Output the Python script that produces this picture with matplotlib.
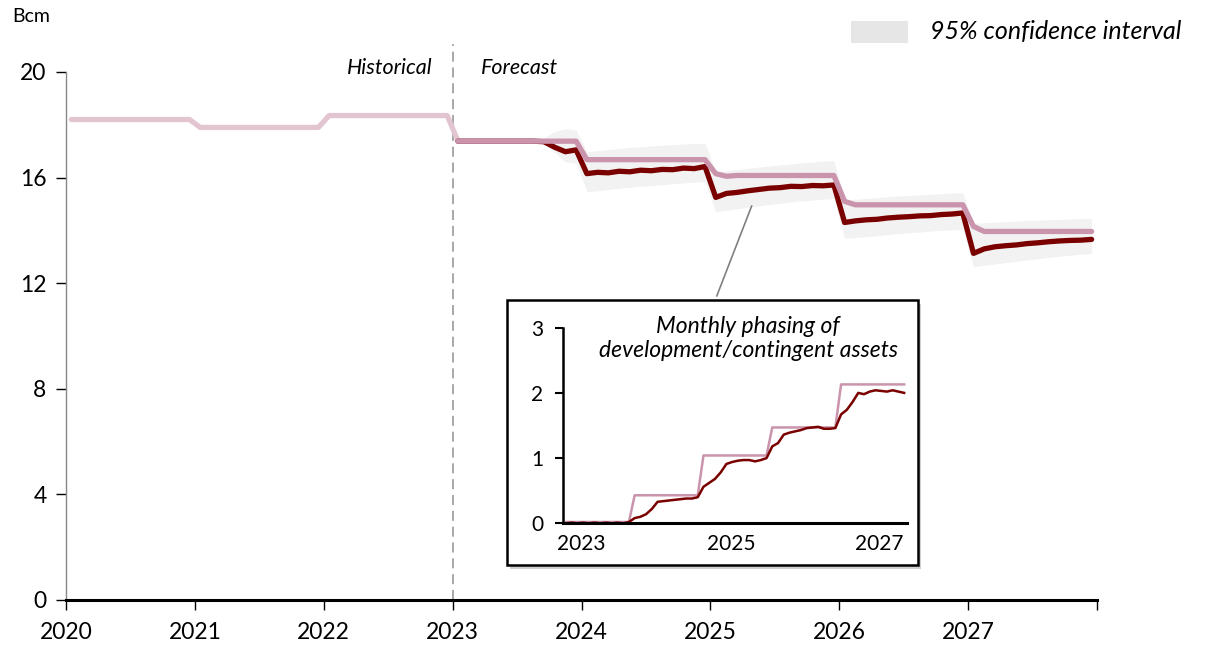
import matplotlib.pyplot as plt
import matplotlib.patches as mpatches
import numpy as np

plt.rcParams['font.family'] = ['Lato', 'DejaVu Sans']

# historical monthly supply, Jan 2020 - Dec 2022 (bcm)
hist = [18.2] * 12 + [17.9] * 12 + [18.35] * 12

# forecast monthly, Jan 2023 - Dec 2027
no_dev = ([17.38] * 12 + [16.68] * 12 + [16.15, 16.05] + [16.08] * 10
          + [15.1] + [14.97] * 11 + [14.15] + [13.96] * 11)
with_dev = [17.38, 17.38, 17.38, 17.38, 17.38, 17.38, 17.38, 17.38, 17.36, 17.15, 16.98, 17.05,
            16.15, 16.2, 16.18, 16.24, 16.22, 16.28, 16.26, 16.31, 16.3, 16.36, 16.34, 16.42,
            15.25, 15.4, 15.44, 15.5, 15.55, 15.6, 15.62, 15.67, 15.66, 15.7, 15.69, 15.72,
            14.3, 14.36, 14.4, 14.42, 14.47, 14.5, 14.52, 14.55, 14.56, 14.6, 14.62, 14.66,
            13.13, 13.3, 13.38, 13.42, 13.45, 13.5, 13.53, 13.57, 13.6, 13.62, 13.63, 13.66]
band_lo = [17.38, 17.38, 17.38, 17.38, 17.38, 17.38, 17.38, 17.38, 17.3, 16.95, 16.6, 16.55,
           15.47, 15.5, 15.55, 15.6, 15.63, 15.67, 15.7, 15.73, 15.77, 15.8, 15.83, 15.85,
           14.71, 14.76, 14.82, 14.88, 14.93, 14.98, 15.03, 15.08, 15.12, 15.15, 15.18, 15.21,
           13.7, 13.73, 13.76, 13.8, 13.84, 13.88, 13.91, 13.94, 13.97, 14.0, 14.02, 14.04,
           12.63, 12.68, 12.73, 12.78, 12.83, 12.88, 12.93, 12.98, 13.02, 13.06, 13.1, 13.13]
band_hi = [17.38, 17.38, 17.38, 17.38, 17.38, 17.38, 17.38, 17.38, 17.5, 17.75, 17.85, 17.8,
           16.98, 17.02, 17.06, 17.1, 17.14, 17.17, 17.2, 17.22, 17.25, 17.27, 17.29, 17.3,
           16.22, 16.26, 16.3, 16.35, 16.4, 16.44, 16.48, 16.52, 16.56, 16.59, 16.62, 16.64,
           15.15, 15.18, 15.21, 15.24, 15.27, 15.3, 15.32, 15.35, 15.37, 15.39, 15.41, 15.43,
           14.27, 14.29, 14.31, 14.33, 14.35, 14.37, 14.39, 14.4, 14.42, 14.43, 14.45, 14.46]

# inset: monthly phasing of development/contingent assets
phase_plan = [0.02] * 12 + [0.43] * 12 + [1.04] * 12 + [1.47] * 12 + [2.13] * 12
phase_act = [0.0, 0.01, 0.0, 0.01, 0.0, 0.01, 0.0, 0.01, 0.0, 0.01, 0.0, 0.02,
             0.08, 0.1, 0.14, 0.22, 0.33, 0.34, 0.35, 0.36, 0.37, 0.38, 0.38, 0.4,
             0.56, 0.62, 0.68, 0.78, 0.91, 0.94, 0.96, 0.97, 0.97, 0.95, 0.97, 1.0,
             1.18, 1.23, 1.36, 1.39, 1.41, 1.43, 1.46, 1.47, 1.48, 1.45, 1.45, 1.46,
             1.67, 1.74, 1.86, 2.0, 1.98, 2.02, 2.04, 2.03, 2.02, 2.04, 2.02, 2.0]

years = [2020, 2021, 2022, 2023, 2024, 2025, 2026, 2027]

t_hist = 2020 + (np.arange(len(hist)) + 0.5) / 12
t_fc = 2023 + (np.arange(len(with_dev)) + 0.5) / 12

dark = '#7a0000'
pink = '#c994ac'
pale = '#e3c5d2'

fig = plt.figure(figsize=(12.12, 6.5), dpi=100)
ax = fig.add_axes([66 / 1212, 1 - 600 / 650, (1097 - 66) / 1212, 528 / 650])

ax.fill_between(t_fc, band_lo, band_hi, color='#f2f2f2', lw=0, zorder=1)
ax.plot(np.append(t_hist, t_fc[0]), hist + [no_dev[0]], color=pale, lw=3.8,
        solid_capstyle='round', solid_joinstyle='round', zorder=3)
ax.plot(t_fc, with_dev, color=dark, lw=3.8, solid_capstyle='round', solid_joinstyle='round', zorder=3)
ax.plot(t_fc, no_dev, color=pink, lw=3.8, solid_capstyle='round', solid_joinstyle='round', zorder=4)

ax.plot([2023, 2023], [0, 21.05], color='#999999', lw=1.2, dashes=(6, 3.5), clip_on=False, zorder=2)

ax.set_xlim(2020, 2028)
ax.set_ylim(0, 20)
ax.set_yticks([0, 4, 8, 12, 16, 20])
ax.set_xticks(range(2020, 2029))
ax.set_xticklabels([str(y) for y in years] + [''])
ax.tick_params(axis='both', labelsize=16.5, length=7, width=1, color='black', pad=7)
ax.tick_params(axis='x', pad=9)
for s in ['top', 'right']:
    ax.spines[s].set_visible(False)
ax.spines['left'].set_color('#888888')
ax.spines['left'].set_linewidth(1)
ax.spines['bottom'].set_linewidth(2.2)
ax.spines['bottom'].set_zorder(5)

fig.text(12 / 1212, 1 - 17 / 650, 'Bcm', fontsize=14, va='center', ha='left')
fig.text(433 / 1212, 1 - 68 / 650, 'Historical', fontsize=15.5, style='italic', va='center', ha='right')
fig.text(481 / 1212, 1 - 68 / 650, 'Forecast', fontsize=15.5, style='italic', va='center', ha='left')

# legend
fig.patches.append(mpatches.Rectangle((851 / 1212, 1 - 43 / 650), 57 / 1212, 22 / 650,
                                      transform=fig.transFigure, color='#e6e6e6', lw=0))
fig.text(930 / 1212, 1 - 32 / 650, '95% confidence interval', fontsize=18, style='italic',
         va='center', ha='left')

# connector from band to inset
ax.plot([2025.05, 2025.32], [11.52, 14.92], color='#808080', lw=1.2, clip_on=False, zorder=2)

# inset frame with shadow
fig.patches.append(mpatches.Rectangle((510 / 1212, 1 - 569 / 650), 411 / 1212, 265 / 650,
                                      transform=fig.transFigure, color='#b0b0b0', lw=0,
                                      alpha=0.6, zorder=5))
fig.patches.append(mpatches.Rectangle((507 / 1212, 1 - 565 / 650), 411 / 1212, 265 / 650,
                                      transform=fig.transFigure, facecolor='white',
                                      edgecolor='black', lw=1.8, zorder=6))

ins = fig.add_axes([563 / 1212, 1 - 523.3 / 650, (907 - 563) / 1212, (523.3 - 327.7) / 650])
ins.set_zorder(10)
ins.patch.set_alpha(0)
ins.plot(t_fc, phase_plan, color=pink, lw=1.8)
ins.plot(t_fc, phase_act, color=dark, lw=1.8)
ins.set_xlim(2023, 2028)
ins.set_ylim(0, 3)
ins.set_yticks([0, 1, 2, 3])
ins.set_xticks([2023.27, 2025.44, 2027.59])
ins.set_xticklabels(['2023', '2025', '2027'])
ins.tick_params(axis='y', labelsize=15, length=6, width=1.5, pad=8)
ins.tick_params(axis='x', labelsize=15, length=0, pad=8)
for s in ['top', 'right']:
    ins.spines[s].set_visible(False)
ins.spines['left'].set_linewidth(1.8)
ins.spines['bottom'].set_linewidth(2.2)
ins.text(0.538, 0.945, 'Monthly phasing of\ndevelopment/contingent assets', transform=ins.transAxes,
         fontsize=16.5, style='italic', ha='center', va='center', linespacing=1.2)

fig.savefig('out.png', dpi=100)
